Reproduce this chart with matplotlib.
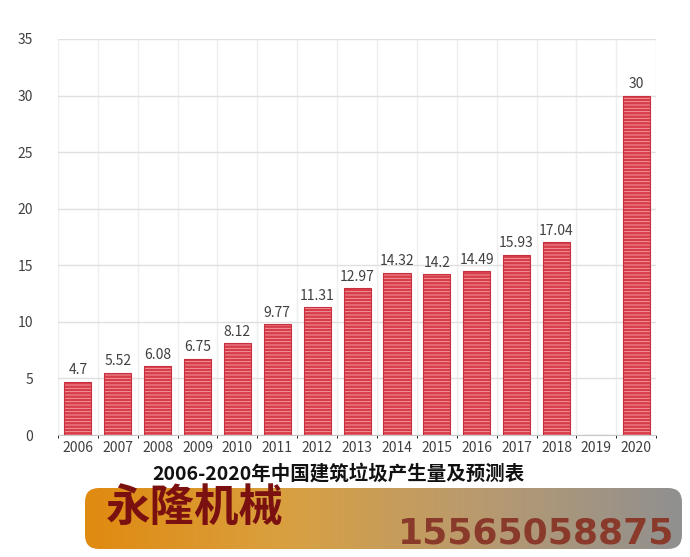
import matplotlib
matplotlib.use("Agg")
import matplotlib.pyplot as plt
import numpy as np
from matplotlib.patches import FancyBboxPatch
from matplotlib.colors import LinearSegmentedColormap

years = ["2006","2007","2008","2009","2010","2011","2012","2013","2014","2015","2016","2017","2018","2019","2020"]
values = [4.7,5.52,6.08,6.75,8.12,9.77,11.31,12.97,14.32,14.2,14.49,15.93,17.04,None,30]
labels = ["4.7","5.52","6.08","6.75","8.12","9.77","11.31","12.97","14.32","14.2","14.49","15.93","17.04","","30"]
yticks = [0,5,10,15,20,25,30,35]
title = "2006-2020年中国建筑垃圾产生量及预测表"
brand = "永隆机械"
phone = "15565058875"

plt.rcParams['font.family'] = ['Noto Sans CJK SC', 'DejaVu Sans']
plt.rcParams['hatch.linewidth'] = 0.6
fig = plt.figure(figsize=(6.9, 5.57), dpi=100)
ax = fig.add_axes([0.084, 0.219, 0.867, 0.711])
x = np.arange(len(years))
vals = [v if v is not None else 0 for v in values]
ax.bar(x, vals, width=0.68, color='#d83c48', edgecolor='#f2a7ad', hatch='-----', linewidth=0, zorder=3)
ax.bar(x, vals, width=0.68, color='none', edgecolor='#c83040', linewidth=0.8, zorder=4)
for xi, v, l in zip(x, vals, labels):
    if l:
        ax.text(xi, v + 0.4, l, ha='center', va='bottom', fontsize=10, color='#404040')
ax.set_xlim(-0.5, len(years) - 0.5)
ax.set_ylim(0, 35)
ax.set_yticks(yticks)
ax.set_xticks(x)
ax.set_xticklabels(years, fontsize=10, color='#404040')
ax.tick_params(axis='y', labelsize=10, colors='#404040', length=0, pad=18)
ax.tick_params(axis='x', length=0, pad=4)
ax.set_xticks(np.arange(-0.5, len(years)), minor=True)
ax.grid(axis='y', color='#e0e0e0', lw=1, zorder=0)
ax.grid(axis='x', which='minor', color='#eeeeee', lw=1, zorder=0)
for s in ['top', 'right', 'left']:
    ax.spines[s].set_visible(False)
ax.spines['bottom'].set_color('#c8c8c8')

fig.text(0.49, 1 - 474 / 557, title, ha='center', va='center', fontsize=14, fontweight='bold', color='#111111')

bax = fig.add_axes([0, 0, 1, 1], facecolor='none')
bax.set_xlim(0, 690); bax.set_ylim(557, 0); bax.axis('off')
cmap = LinearSegmentedColormap.from_list('b', ['#e08a10', '#d9a040', '#b89a70', '#909090'])
grad = np.linspace(0, 1, 256).reshape(1, -1)
im = bax.imshow(grad, extent=[85, 682, 549, 488], cmap=cmap, aspect='auto', zorder=5)
patch = FancyBboxPatch((85, 488), 597, 61, boxstyle='round,pad=0,rounding_size=14', transform=bax.transData, facecolor='none', edgecolor='none')
bax.add_patch(patch)
im.set_clip_path(patch)
bax.text(106, 508, brand, fontsize=32, fontweight='bold', color='#7a1010', va='center', ha='left', zorder=6)
bax.text(674, 534, phone, fontsize=26, fontweight='bold', color='#8a3a2a', va='center', ha='right', zorder=6, family='DejaVu Sans')
fig.savefig('out.png', dpi=100)
